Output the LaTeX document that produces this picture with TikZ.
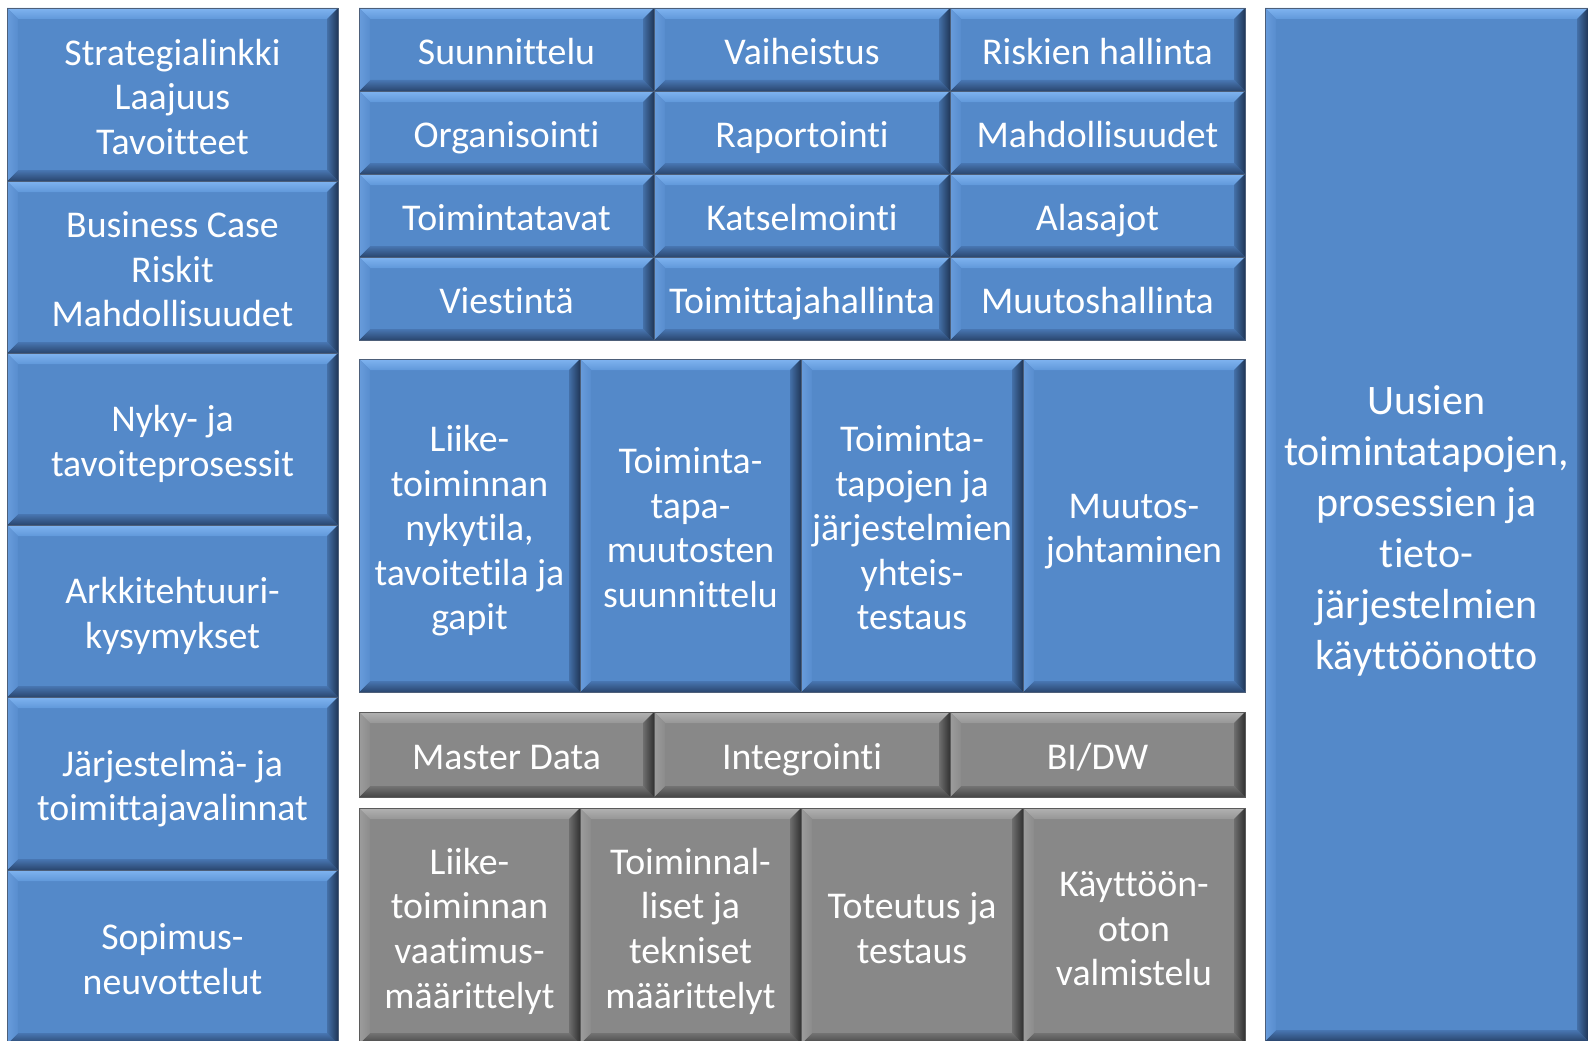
\documentclass[tikz,border=0pt]{standalone}
\usepackage{fontspec}
\setmainfont{Carlito}[RawFeature={-liga;-clig}]
\definecolor{bF}{RGB}{84,137,201}
\definecolor{bT1}{RGB}{128,180,240}
\definecolor{bT2}{RGB}{96,152,218}
\definecolor{bB1}{RGB}{72,118,178}
\definecolor{bB2}{RGB}{42,70,110}
\definecolor{bL1}{RGB}{104,156,220}
\definecolor{bL2}{RGB}{88,141,206}
\definecolor{bR1}{RGB}{68,112,168}
\definecolor{bR2}{RGB}{32,55,88}
\definecolor{gF}{RGB}{136,136,136}
\definecolor{gT1}{RGB}{178,178,178}
\definecolor{gT2}{RGB}{150,150,150}
\definecolor{gB1}{RGB}{115,115,115}
\definecolor{gB2}{RGB}{70,70,70}
\definecolor{gL1}{RGB}{156,156,156}
\definecolor{gL2}{RGB}{140,140,140}
\definecolor{gR1}{RGB}{110,110,110}
\definecolor{gR2}{RGB}{50,50,50}
\newcommand\bevel[8]{%
 \path (path picture bounding box.north west) coordinate (pNW)
       (path picture bounding box.north east) coordinate (pNE)
       (path picture bounding box.south west) coordinate (pSW)
       (path picture bounding box.south east) coordinate (pSE);
 \path ([shift={(11pt,-11pt)}]pNW) coordinate (qNW)
       ([shift={(-11pt,-11pt)}]pNE) coordinate (qNE)
       ([shift={(11pt,11pt)}]pSW) coordinate (qSW)
       ([shift={(-11pt,11pt)}]pSE) coordinate (qSE);
 \shade[top color=#1,bottom color=#2] (pNW)--(pNE)--(qNE)--(qNW)--cycle;
 \shade[top color=#3,bottom color=#4] (qSW)--(qSE)--(pSE)--(pSW)--cycle;
 \shade[left color=#5,right color=#6] (pNW)--(qNW)--(qSW)--(pSW)--cycle;
 \shade[left color=#7,right color=#8] (qNE)--(pNE)--(pSE)--(qSE)--cycle;
}
\tikzset{
 tilebase/.style={rectangle, inner sep=0pt, outer sep=0pt, text=white, align=center,
   font=\fontsize{37.8}{44.6}\selectfont},
 btile/.style={tilebase, fill=bF, draw=bR2!80, line width=0.6pt,
   path picture={\bevel{bT1}{bT2}{bB1}{bB2}{bL1}{bL2}{bR1}{bR2}}},
 gtile/.style={tilebase, fill=gF, draw=gR2!80, line width=0.6pt,
   path picture={\bevel{gT1}{gT2}{gB1}{gB2}{gL1}{gL2}{gR1}{gR2}}},
 bigfont/.style={font=\fontsize{42}{51}\selectfont},
}
\def\tH{43pt}\def\tD{12.8pt}
% #1 style, #2 name, #3 x1, #4 y1, #5 x2, #6 y2, #7 text
\newcommand\tile[7][btile]{%
 \node[#1, minimum width={#5pt-#3pt}, minimum height={#6pt-#4pt}]
   (#2) at ({(#3+#5)/2},{(#4+#6)/2}) {\rule{0pt}{\tH}#7\rule[-\tD]{0pt}{\tD}};}
\begin{document}
\begin{tikzpicture}[x=1pt,y=-1pt]
\useasboundingbox (0,0) rectangle (1588,1041);
% left column
\tile{l1}{7}{8}{338}{181}{Strategialinkki\\Laajuus\\Tavoitteet}
\tile{l2}{7}{181}{338}{353}{Business Case\\Riskit\\Mahdollisuudet}
\tile{l3}{7}{353}{338}{525}{Nyky- ja\\tavoiteprosessit}
\tile{l4}{7}{525}{338}{697}{Arkkitehtuuri-\\kysymykset}
\tile{l5}{7}{697}{338}{870}{Järjestelmä- ja\\toimittajavalinnat}
\tile{l6}{7}{870}{338}{1044}{Sopimus-\\neuvottelut}
% top grid
\tile{t11}{359}{8}{654}{91}{Suunnittelu}
\tile{t12}{654}{8}{950}{91}{Vaiheistus}
\tile{t13}{950}{8}{1245}{91}{Riskien hallinta}
\tile{t21}{359}{91}{654}{174}{Organisointi}
\tile{t22}{654}{91}{950}{174}{Raportointi}
\tile{t23}{950}{91}{1245}{174}{Mahdollisuudet}
\tile{t31}{359}{174}{654}{257}{Toimintatavat}
\tile{t32}{654}{174}{950}{257}{Katselmointi}
\tile{t33}{950}{174}{1245}{257}{Alasajot}
\tile{t41}{359}{257}{654}{340}{Viestintä}
\tile{t42}{654}{257}{950}{340}{Toimittajahallinta}
\tile{t43}{950}{257}{1245}{340}{Muutoshallinta}
% middle blue
\tile{m1}{359}{359}{580}{692}{Liike-\\toiminnan\\nykytila,\\tavoitetila ja\\gapit}
\tile{m2}{580}{359}{801}{692}{Toiminta-\\tapa-\\muutosten\\suunnittelu}
\tile{m3}{801}{359}{1023}{692}{Toiminta-\\tapojen ja\\järjestelmien\\yhteis-\\testaus}
\tile{m4}{1023}{359}{1245}{692}{Muutos-\\johtaminen}
% gray row
\tile[gtile]{g1}{359}{712}{654}{797}{Master Data}
\tile[gtile]{g2}{654}{712}{950}{797}{Integrointi}
\tile[gtile]{g3}{950}{712}{1245}{797}{BI/DW}
% gray bottom
\tile[gtile]{b1}{359}{808}{580}{1044}{Liike-\\toiminnan\\vaatimus-\\määrittelyt}
\tile[gtile]{b2}{580}{808}{801}{1044}{Toiminnal-\\liset ja\\tekniset\\määrittelyt}
\tile[gtile]{b3}{801}{808}{1023}{1044}{Toteutus ja\\testaus}
\tile[gtile]{b4}{1023}{808}{1245}{1044}{Käyttöön-\\oton\\valmistelu}
% right big box
\def\tH{48.5pt}\def\tD{13.6pt}
\tile[btile,bigfont]{r}{1265}{8}{1588}{1041}{Uusien\\toimintatapojen,\\prosessien ja\\tieto-\\järjestelmien\\käyttöönotto}
\end{tikzpicture}
\end{document}
